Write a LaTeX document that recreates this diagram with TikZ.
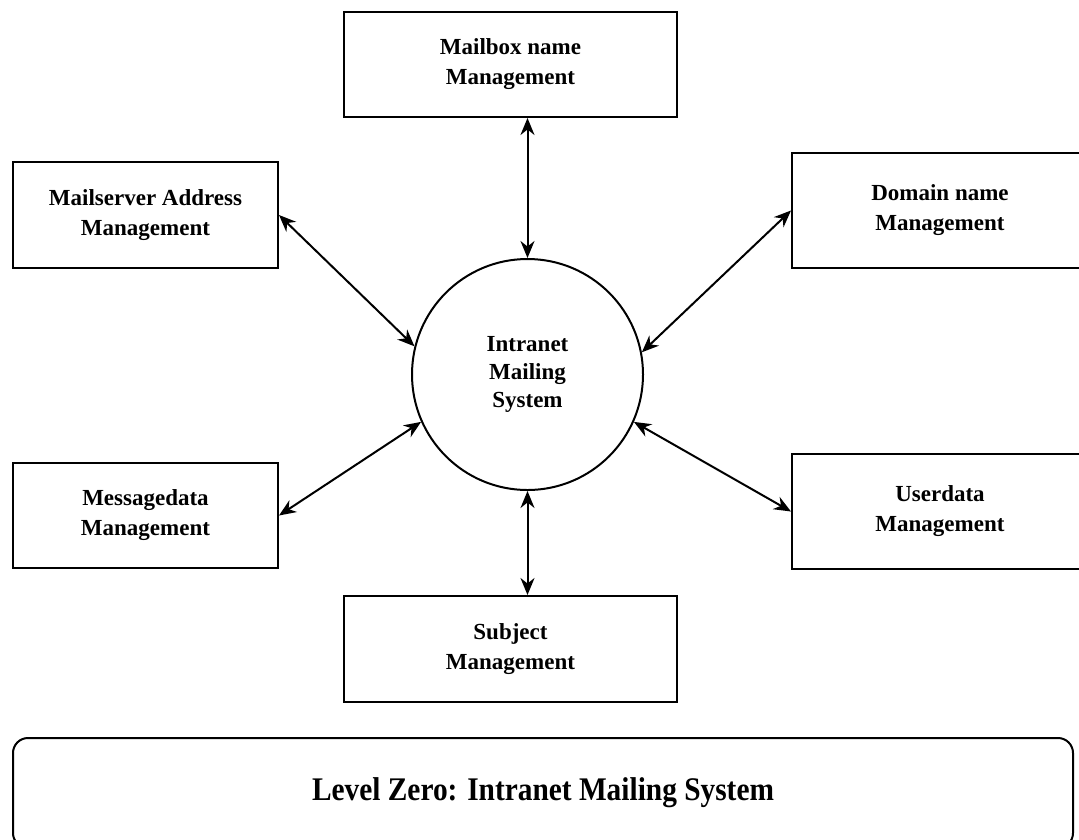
\documentclass[tikz,border=0pt]{standalone}
\usepackage{fontspec}
\setmainfont{Liberation Serif}
\newfontfamily\condfont[FakeStretch=0.89]{Liberation Serif}
\usetikzlibrary{arrows.meta}

\tikzset{
  mgmt/.style={draw, line width=2pt, align=center, inner sep=0pt,
    font=\fontsize{23}{30}\selectfont\bfseries},
  link/.style={line width=2pt, {Stealth[length=17pt,width=14pt]}-{Stealth[length=17pt,width=14pt]}},
}

\begin{document}
\begin{tikzpicture}[x=1pt,y=-1pt]
        \clip (0,0) rectangle (1079,839);

        \node[draw, circle, line width=2pt, minimum size=231pt, align=center,
          font=\fontsize{23}{28}\selectfont\bfseries] (system) at (527.5,374.5) {Intranet\\Mailing\\System};

        \node[mgmt, minimum width=333pt, minimum height=105pt] (mailbox) at (510.5,64.5) {Mailbox name\\Management};
        \node[mgmt, minimum width=265pt, minimum height=106pt] (mailserver) at (145.5,215) {Mailserver Address\\Management};
        \node[mgmt, minimum width=296pt, minimum height=115pt] (domain) at (940,210.5) {Domain name\\Management};
        \node[mgmt, minimum width=265pt, minimum height=105pt] (messagedata) at (145.5,515.5) {Messagedata\\Management};
        \node[mgmt, minimum width=296pt, minimum height=115pt] (userdata) at (940,511.5) {Userdata\\Management};
        \node[mgmt, minimum width=333pt, minimum height=106pt] (subject) at (510.5,649) {Subject\\Management};

        \draw[link] (system.north) -- (system.north |- mailbox.south);
        \draw[link] (system.south) -- (system.south |- subject.north);
        \draw[link] (system.166) -- (mailserver.east);
        \draw[link] (system.11) -- (domain.west);
        \draw[link] (system.204) -- (messagedata.east);
        \draw[link] (system.336) -- (userdata.west);

        \node[draw, rounded corners=15pt, line width=2pt, minimum width=1060pt, minimum height=110pt,
          font=\fontsize{33}{40}\condfont\bfseries] (title) at (543,793) {Level Zero: Intranet Mailing System};
\end{tikzpicture}
\end{document}
